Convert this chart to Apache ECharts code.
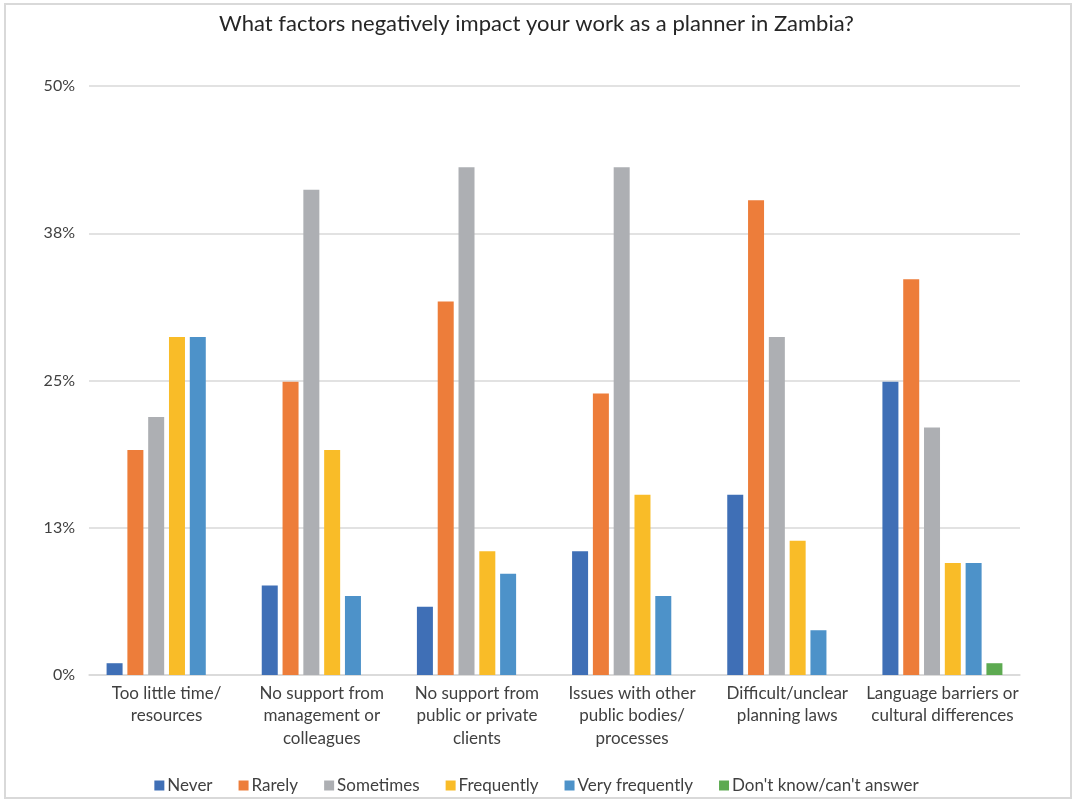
<!DOCTYPE html>
<html>
<head>
<meta charset="utf-8">
<title>Planning in Zambia</title>
<script src="https://cdn.jsdelivr.net/npm/echarts@6/dist/echarts.min.js"></script>
<style>
  html, body { margin: 0; padding: 0; background: #fff; }
  #chart { width: 1073px; height: 801px; }
</style>
</head>
<body>
<div id="chart"></div>
<script>
// Survey question categories (pre-wrapped as shown on the axis)
const categories = [
  'Too little time/\nresources',
  'No support from\nmanagement or\ncolleagues',
  'No support from\npublic or private\nclients',
  'Issues with other\npublic bodies/\nprocesses',
  'Difficult/unclear\nplanning laws',
  'Language barriers or\ncultural differences'
];

// Share of respondents (%) per answer
const never          = [1.0, 7.6, 5.8, 10.5, 15.3, 24.9];
const rarely         = [19.1, 24.9, 31.7, 23.9, 40.3, 33.6];
const sometimes      = [21.9, 41.2, 43.1, 43.1, 28.7, 21.0];
const frequently     = [28.7, 19.1, 10.5, 15.3, 11.4, 9.5];
const veryFrequently = [28.7, 6.7, 8.6, 6.7, 3.8, 9.5];
const dontKnow       = [0, 0, 0, 0, 0, 1.0];

const seriesNames = ['Never', 'Rarely', 'Sometimes', 'Frequently', 'Very frequently', "Don't know/can't answer"];
const seriesData = [never, rarely, sometimes, frequently, veryFrequently, dontKnow];
const colors = ['#3F6FB6', '#ED7D3A', '#ADAFB3', '#F9BC28', '#4D92C9', '#5DAA51'];

const FONT = 'Lato, "Open Sans", sans-serif';
const TEXT = '#404040';

const chart = echarts.init(document.getElementById('chart'), null, { renderer: 'canvas' });

chart.setOption({
  animation: false,
  backgroundColor: '#fff',
  color: colors,
  textStyle: { fontFamily: FONT },
  title: {
    text: 'What factors negatively impact your work as a planner in Zambia?',
    left: 'center',
    top: 8,
    textStyle: { fontFamily: FONT, fontSize: 22, fontWeight: 'normal', color: '#262626' }
  },
  graphic: [{
    type: 'rect',
    shape: { x: 5, y: 4, width: 1066, height: 794 },
    style: { fill: 'none', stroke: '#d9d9d9', lineWidth: 2 },
    silent: true,
    z: 100
  }],
  legend: {
    bottom: 2,
    left: 'center',
    itemWidth: 10,
    itemHeight: 10,
    itemGap: 26,
    icon: 'rect',
    textStyle: { fontFamily: FONT, fontSize: 17, color: TEXT, padding: [0, 0, 0, -2] },
    data: seriesNames
  },
  grid: { left: 89, right: 53, top: 86, bottom: 126 },
  xAxis: {
    type: 'category',
    data: categories,
    axisTick: { show: false },
    axisLine: { lineStyle: { color: '#d9d9d9', width: 1.5 } },
    axisLabel: {
      interval: 0,
      margin: 7,
      fontFamily: FONT,
      fontSize: 17,
      lineHeight: 22.5,
      color: TEXT
    }
  },
  yAxis: {
    type: 'value',
    min: 0,
    max: 50,
    interval: 12.5,
    axisLine: { show: false },
    axisTick: { show: false },
    splitLine: { lineStyle: { color: '#d9d9d9', width: 1.5 } },
    axisLabel: {
      margin: 14,
      fontFamily: FONT,
      fontSize: 16,
      color: TEXT,
      formatter: v => Math.round(v) + '%'
    }
  },
  series: seriesNames.map((name, i) => ({
    name,
    type: 'bar',
    data: seriesData[i],
    barWidth: 16,
    barGap: '30%',
    itemStyle: { color: colors[i] }
  }))
});
</script>
</body>
</html>
